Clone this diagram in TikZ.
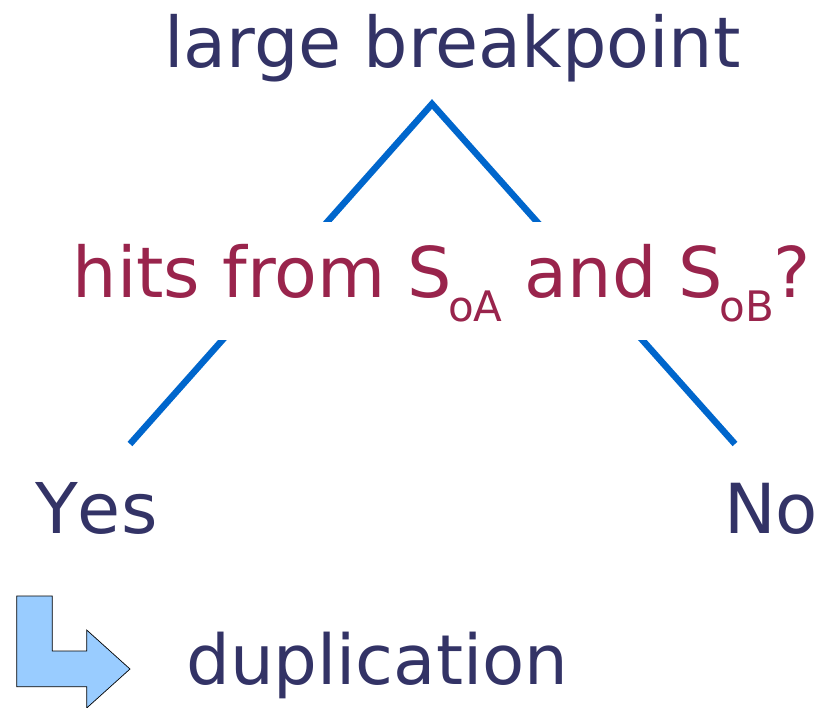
\documentclass[tikz,border=0pt]{standalone}
\usepackage{fontspec}
\setmainfont{DejaVu Sans}
\definecolor{navy}{HTML}{333366}
\definecolor{maroon}{HTML}{99244C}
\definecolor{branch}{HTML}{0066CC}
\definecolor{arrowfill}{HTML}{99CCFF}
\newcommand{\subtxt}[1]{\hspace{-4pt}\raisebox{-24pt}{\fontsize{42}{44}\selectfont #1}}
\begin{document}
\begin{tikzpicture}[x=1pt,y=-1pt,
  bigtext/.style={font=\fontsize{70}{72}\selectfont, text=navy, inner sep=0pt},
  question/.style={font=\fontsize{70}{72}\selectfont, text=maroon, fill=white, inner xsep=0pt, inner ysep=0pt},
  branchline/.style={draw=branch, line width=6.5pt},
  bentarrow/.style={draw=black, fill=arrowfill, line width=0.7pt, line join=miter}]
\useasboundingbox (0,0) rectangle (821,707);
\node[bigtext, anchor=base west] (top) at (164,67) {large breakpoint};
\coordinate (apex) at (432,104);
\coordinate (yesend) at (130,444);
\coordinate (noend) at (735,444);
\draw[branchline] (yesend) -- (apex) -- (noend);
\node[question, anchor=base west, text height=75pt, text depth=43pt] (q) at (72.5,297)
  {hits from S\subtxt{oA} and S\subtxt{oB}?};
\node[bigtext, anchor=base west] (yes) at (35,533) {\addfontfeatures{Kerning=Off}Yes};
\node[bigtext, font=\fontsize{69}{72}\selectfont, anchor=base west] (no) at (724,533) {No};
\node[bigtext, font=\fontsize{69}{72}\selectfont, anchor=base west] (dup) at (186,684) {duplication};
\draw[bentarrow] (16.7,596) -- (52.3,596) -- (52.3,651) -- (86.7,651) -- (86.7,630)
  -- (130,669) -- (86.7,708) -- (86.7,686.7) -- (16.7,686.7) -- cycle;
\end{tikzpicture}
\end{document}
